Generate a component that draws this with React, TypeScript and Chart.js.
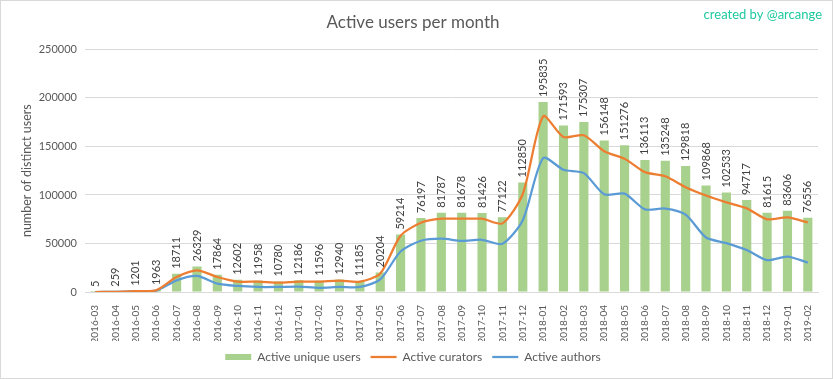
import React, { useEffect, useRef } from "react";
import { Chart, registerables } from "chart.js";

Chart.register(...registerables);

const months = [
  "2016-03", "2016-04", "2016-05", "2016-06", "2016-07", "2016-08", "2016-09", "2016-10", "2016-11", "2016-12",
  "2017-01", "2017-02", "2017-03", "2017-04", "2017-05", "2017-06", "2017-07", "2017-08", "2017-09", "2017-10",
  "2017-11", "2017-12", "2018-01", "2018-02", "2018-03", "2018-04", "2018-05", "2018-06", "2018-07", "2018-08",
  "2018-09", "2018-10", "2018-11", "2018-12", "2019-01", "2019-02",
];

const uniqueUsers = [
  5, 259, 1201, 1963, 18711, 26329, 17864, 12602, 11958, 10780,
  12186, 11596, 12940, 11185, 20204, 59214, 76197, 81787, 81678, 81426,
  77122, 112850, 195835, 171593, 175307, 156148, 151276, 136113, 135248, 129818,
  109868, 102533, 94717, 81615, 83606, 76556,
];

const curators = [
  0, 200, 1000, 1800, 15500, 22400, 15500, 10700, 10700, 9700,
  10700, 10700, 11700, 10700, 19000, 58000, 71400, 75500, 75500, 75500,
  70700, 101000, 181000, 159700, 161500, 145000, 137300, 123500, 119300, 108000,
  99400, 92400, 86200, 74900, 76900, 71700,
];

const authors = [
  0, 150, 800, 1500, 12000, 16500, 8600, 6200, 5200, 5200,
  5500, 4300, 5200, 5200, 13000, 41700, 52800, 54900, 52800, 53800,
  49700, 74000, 138000, 126000, 122500, 100700, 101400, 85200, 86000, 79700,
  56200, 50400, 43200, 32800, 36500, 30300,
];

const yTicks = [0, 50000, 100000, 150000, 200000, 250000];

const FONT = "Lato, 'Open Sans', sans-serif";
const TEXT = "#595959";
const Y_TITLE = "number of distinct users";

const frame = {
  id: "frame",
  beforeDraw(chart: any) {
    const { ctx, width, height } = chart;
    ctx.save();
    ctx.fillStyle = "#ffffff";
    ctx.fillRect(0, 0, width, height);
    ctx.strokeStyle = "#d9d9d9";
    ctx.lineWidth = 1;
    ctx.strokeRect(0.5, 0.5, width - 1, height - 1);
    ctx.restore();
  },
  afterDraw(chart: any) {
    const { ctx, chartArea } = chart;
    ctx.save();
    ctx.font = `13px ${FONT}`;
    ctx.fillStyle = "#1fc9a0";
    ctx.textAlign = "right";
    ctx.textBaseline = "middle";
    ctx.fillText("created by @arcange", 822, 15);
    ctx.translate(27, (chartArea.top + chartArea.bottom) / 2);
    ctx.rotate(-Math.PI / 2);
    ctx.font = `12.5px ${FONT}`;
    ctx.fillStyle = TEXT;
    ctx.textAlign = "center";
    ctx.textBaseline = "middle";
    ctx.fillText(Y_TITLE, 0, 0);
    ctx.restore();
  },
};

const barLabels = {
  id: "barLabels",
  afterDatasetsDraw(chart: any) {
    const { ctx } = chart;
    const meta = chart.getDatasetMeta(0);
    const data = chart.data.datasets[0].data as number[];
    ctx.save();
    ctx.font = `11px ${FONT}`;
    ctx.fillStyle = "#404040";
    ctx.textAlign = "left";
    ctx.textBaseline = "middle";
    meta.data.forEach((el: any, i: number) => {
      ctx.save();
      ctx.translate(el.x, el.y - 5);
      ctx.rotate(-Math.PI / 2);
      ctx.fillText(String(data[i]), 0, 0);
      ctx.restore();
    });
    ctx.restore();
  },
};

export default function App() {
  const ref = useRef<HTMLCanvasElement>(null);
  useEffect(() => {
    document.body.style.margin = "0";
    const chart = new Chart(ref.current!, {
      type: "bar",
      data: {
        labels: months,
        datasets: [
          {
            type: "bar",
            label: "Active unique users",
            data: uniqueUsers,
            backgroundColor: "#a9d18e",
            borderWidth: 0,
            barPercentage: 0.45,
            categoryPercentage: 1,
            order: 3,
            pointStyle: "rect",
          } as any,
          {
            type: "line",
            label: "Active curators",
            data: curators,
            borderColor: "#ed7d31",
            backgroundColor: "#ed7d31",
            borderWidth: 2.25,
            pointRadius: 0,
            tension: 0.25,
            order: 1,
            pointStyle: "line",
          },
          {
            type: "line",
            label: "Active authors",
            data: authors,
            borderColor: "#5b9bd5",
            backgroundColor: "#5b9bd5",
            borderWidth: 2.25,
            pointRadius: 0,
            tension: 0.25,
            order: 2,
            pointStyle: "line",
          },
        ],
      },
      options: {
        responsive: false,
        animation: false,
        layout: { padding: { left: 8, right: 15, top: 0, bottom: 6 } },
        plugins: {
          title: {
            display: true,
            text: "Active users per month",
            color: TEXT,
            font: { family: FONT, size: 17, weight: "normal" },
            padding: { top: 12, bottom: 17 },
          },
          legend: {
            position: "bottom",
            labels: {
              usePointStyle: true,
              pointStyleWidth: 26,
              boxHeight: 6,
              color: TEXT,
              font: { family: FONT, size: 12 },
              padding: 10,
              sort: (a: any, b: any) => a.datasetIndex - b.datasetIndex,
            },
          },
          tooltip: { enabled: false },
        },
        scales: {
          x: {
            grid: { display: false },
            border: { color: "#d9d9d9" },
            afterFit: (s: any) => {
              s.height = 49;
            },
            ticks: {
              color: TEXT,
              font: { family: FONT, size: 10 },
              maxRotation: 90,
              minRotation: 90,
              autoSkip: false,
              padding: 5,
            },
          },
          y: {
            min: 0,
            max: 250000,
            afterBuildTicks: (s: any) => {
              s.ticks = yTicks.map((v) => ({ value: v }));
            },
            afterFit: (s: any) => {
              s.width = 77;
            },
            grid: { color: "#d9d9d9", drawTicks: false },
            border: { display: false },
            ticks: {
              color: TEXT,
              font: { family: FONT, size: 11 },
              padding: 8,
              callback: (v: any) => String(v),
            },
          },
        },
      },
      plugins: [frame, barLabels],
    });
    return () => chart.destroy();
  }, []);
  return <canvas ref={ref} width={833} height={379} style={{ display: "block" }} />;
}
